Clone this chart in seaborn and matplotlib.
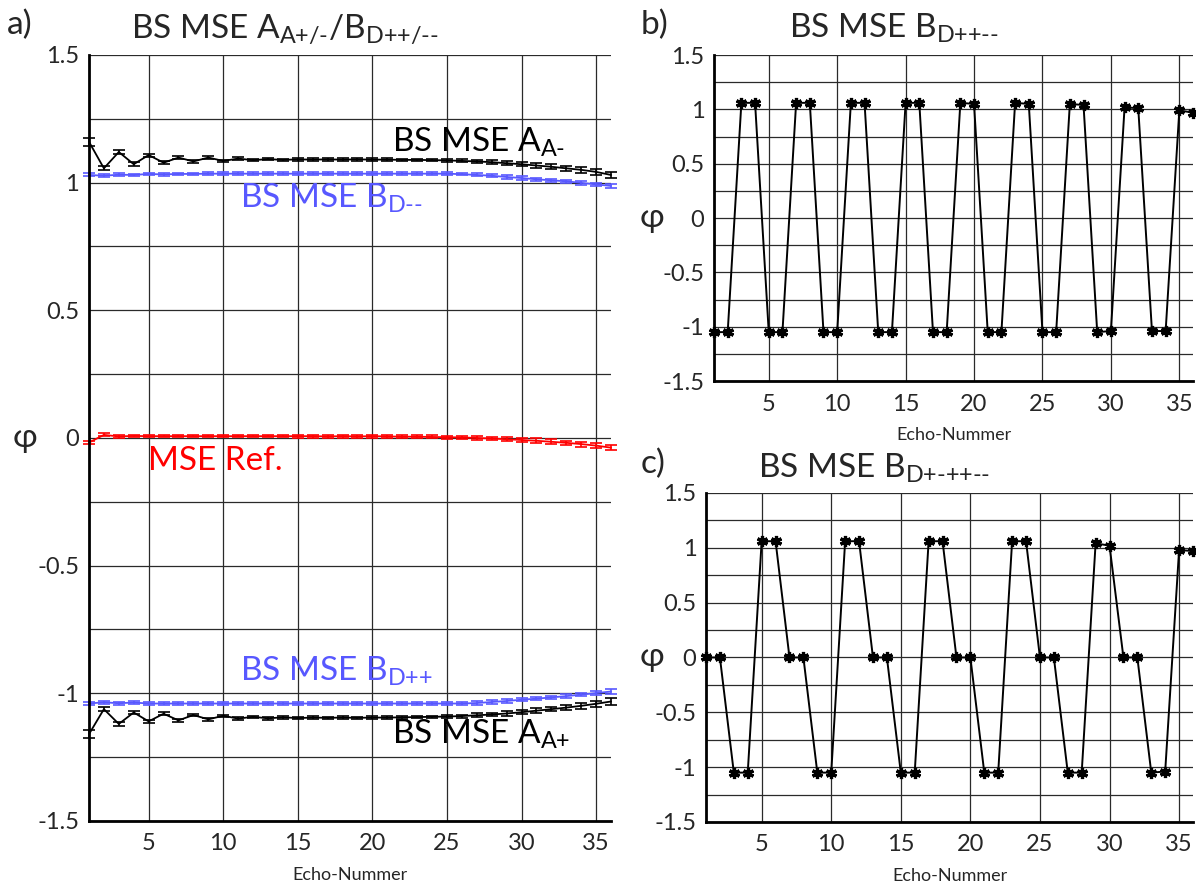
import numpy as np
import pandas as pd
import seaborn as sns
import matplotlib.pyplot as plt

sns.set_theme(style="white")
FONT = "Lato"
plt.rcParams['font.family'] = [FONT, 'DejaVu Sans']
plt.rcParams['mathtext.fontset'] = 'custom'
plt.rcParams['mathtext.rm'] = FONT
plt.rcParams['mathtext.it'] = FONT
plt.rcParams['mathtext.bf'] = FONT

# ---- data ----
echo = list(range(1, 37))

a_minus = [1.160, 1.056, 1.120, 1.072, 1.108, 1.078, 1.098, 1.083, 1.098, 1.085,
           1.094, 1.088, 1.092, 1.089, 1.091, 1.090, 1.091, 1.090, 1.091, 1.090,
           1.090, 1.089, 1.089, 1.088, 1.087, 1.085, 1.083, 1.080, 1.076, 1.072,
           1.067, 1.062, 1.056, 1.050, 1.042, 1.030]
a_minus_err = [0.015, 0.008, 0.007, 0.007, 0.006, 0.006, 0.005, 0.005, 0.005, 0.005,
               0.005, 0.005, 0.005, 0.005, 0.005, 0.005, 0.005, 0.005, 0.005, 0.005,
               0.005, 0.005, 0.005, 0.005, 0.006, 0.006, 0.007, 0.007, 0.008, 0.008,
               0.009, 0.009, 0.010, 0.011, 0.012, 0.012]

b_minus = [1.030, 1.027, 1.031, 1.030, 1.034, 1.032, 1.034, 1.034, 1.035, 1.035,
           1.035, 1.035, 1.035, 1.035, 1.035, 1.035, 1.035, 1.035, 1.035, 1.035,
           1.035, 1.035, 1.035, 1.035, 1.035, 1.033, 1.030, 1.027, 1.022, 1.018,
           1.013, 1.009, 1.005, 0.999, 0.993, 0.987]
b_minus_err = [0.006, 0.006, 0.005, 0.005, 0.005, 0.005, 0.005, 0.005, 0.005, 0.005,
               0.005, 0.005, 0.005, 0.005, 0.005, 0.005, 0.005, 0.005, 0.005, 0.005,
               0.005, 0.005, 0.005, 0.005, 0.005, 0.005, 0.006, 0.006, 0.006, 0.006,
               0.006, 0.007, 0.007, 0.007, 0.007, 0.008]

ref = [-0.018, 0.012, 0.006, 0.008, 0.007, 0.007, 0.007, 0.007, 0.007, 0.007,
       0.007, 0.007, 0.007, 0.007, 0.007, 0.007, 0.006, 0.007, 0.006, 0.007,
       0.006, 0.005, 0.005, 0.004, 0.003, 0.002, 0.000, -0.002, -0.005, -0.008,
       -0.011, -0.015, -0.019, -0.024, -0.030, -0.038]
ref_err = [0.006, 0.006, 0.005, 0.005, 0.005, 0.005, 0.005, 0.005, 0.005, 0.005,
           0.005, 0.005, 0.005, 0.005, 0.006, 0.006, 0.006, 0.006, 0.006, 0.006,
           0.006, 0.006, 0.006, 0.006, 0.006, 0.007, 0.007, 0.007, 0.008, 0.008,
           0.009, 0.009, 0.009, 0.010, 0.010, 0.010]

b_plus = [-1.040, -1.035, -1.039, -1.036, -1.040, -1.040, -1.040, -1.040, -1.040, -1.040,
          -1.040, -1.040, -1.040, -1.040, -1.040, -1.040, -1.040, -1.040, -1.040, -1.040,
          -1.040, -1.040, -1.040, -1.040, -1.040, -1.040, -1.038, -1.034, -1.030, -1.025,
          -1.021, -1.016, -1.011, -1.005, -0.999, -0.993]
b_plus_err = b_minus_err

a_plus = [-1.160, -1.062, -1.120, -1.075, -1.110, -1.080, -1.106, -1.085, -1.102, -1.088,
          -1.099, -1.092, -1.098, -1.094, -1.097, -1.095, -1.096, -1.095, -1.096, -1.095,
          -1.095, -1.094, -1.093, -1.092, -1.091, -1.089, -1.086, -1.083, -1.079, -1.074,
          -1.068, -1.062, -1.056, -1.049, -1.041, -1.032]
a_plus_err = a_minus_err

phase_b = [-1.05, -1.05, 1.06, 1.06, -1.05, -1.05, 1.06, 1.06, -1.05, -1.05,
           1.06, 1.06, -1.05, -1.05, 1.06, 1.06, -1.05, -1.05, 1.06, 1.05,
           -1.05, -1.05, 1.06, 1.05, -1.05, -1.05, 1.05, 1.04, -1.05, -1.04,
           1.02, 1.01, -1.04, -1.04, 0.99, 0.97]

phase_c = [0.0, 0.0, -1.05, -1.05, 1.06, 1.06, 0.0, 0.0, -1.05, -1.05,
           1.06, 1.06, 0.0, 0.0, -1.05, -1.05, 1.06, 1.06, 0.0, 0.0,
           -1.05, -1.05, 1.06, 1.06, 0.0, 0.0, -1.05, -1.05, 1.04, 1.02,
           0.0, 0.0, -1.05, -1.04, 0.98, 0.97]

BLUE = '#5858ff'
RED = '#ff0000'

fig = plt.figure(figsize=(11.96, 8.89), dpi=100)
ax_a = fig.add_axes([0.0744, 0.0765, 0.4365, 0.8617])
ax_b = fig.add_axes([0.597, 0.5714, 0.4005, 0.3667])
ax_c = fig.add_axes([0.5903, 0.0754, 0.4072, 0.3701])


def style_axis(ax, phi_x):
    ax.set_xlim(1, 36)
    ax.set_ylim(-1.5, 1.5)
    ax.set_xticks([5, 10, 15, 20, 25, 30, 35])
    ax.set_yticks([-1.5, -1, -0.5, 0, 0.5, 1, 1.5])
    ax.set_yticklabels(['-1.5', '-1', '-0.5', '0', '0.5', '1', '1.5'])
    ax.set_yticks(np.arange(-1.25, 1.5, 0.25), minor=True)
    ax.grid(True, which='both', color='#2a2a2a', lw=0.9)
    ax.set_axisbelow(True)
    for s in ['top', 'right']:
        ax.spines[s].set_visible(False)
    for s in ['left', 'bottom']:
        ax.spines[s].set_color('black')
        ax.spines[s].set_linewidth(2)
    ax.tick_params(axis='both', which='both', direction='in', length=4,
                   width=1.5, color='black', labelsize=17, pad=7)
    ax.tick_params(axis='x', pad=9)
    ax.set_xlabel('Echo-Nummer', fontsize=13, labelpad=9)
    ax.set_ylabel('φ', fontsize=24, rotation=0, va='center', ha='center')
    ax.yaxis.set_label_coords(phi_x, 0.5)


# ---- panel a ----
series = [(a_minus, a_minus_err, 'black'), (b_minus, b_minus_err, BLUE),
          (ref, ref_err, RED), (b_plus, b_plus_err, BLUE), (a_plus, a_plus_err, 'black')]
for vals, err, col in series:
    df = pd.DataFrame({'echo': echo, 'phi': vals})
    sns.lineplot(data=df, x='echo', y='phi', ax=ax_a, color=col, lw=1.3, clip_on=False)
    ax_a.errorbar(echo, vals, yerr=err, fmt='none', ecolor=col, elinewidth=1.2,
                  capsize=4, capthick=1.2, clip_on=False)
style_axis(ax_a, -0.123)

ax_a.text(21.3, 1.12, r'BS MSE A$_{\text{A-}}$', fontsize=24, color='black')
ax_a.text(11.1, 0.90, r'BS MSE B$_{\text{D--}}$', fontsize=24, color=BLUE)
ax_a.text(4.96, -0.125, 'MSE Ref.', fontsize=24, color=RED)
ax_a.text(11.1, -0.95, r'BS MSE B$_{\text{D++}}$', fontsize=24, color=BLUE)
ax_a.text(21.3, -1.20, r'BS MSE A$_{\text{A+}}$', fontsize=24, color='black')
ax_a.text(0.375, 1.022, r'BS MSE A$_{\text{A+/-}}$/B$_{\text{D++/--}}$', fontsize=24,
          transform=ax_a.transAxes, ha='center', va='baseline')

# ---- panels b and c ----
for ax, vals, title, tx, ty, px in [
        (ax_b, phase_b, r'BS MSE B$_{\text{D++--}}$', 0.376, 1.052, -0.129),
        (ax_c, phase_c, r'BS MSE B$_{\text{D+-++--}}$', 0.345, 1.046, -0.111)]:
    df = pd.DataFrame({'echo': echo, 'phi': vals})
    sns.lineplot(data=df, x='echo', y='phi', ax=ax, color='black', lw=1.4,
                 marker=(6, 2, 0), markersize=8, markeredgewidth=2.3,
                 markeredgecolor='black', clip_on=False)
    style_axis(ax, px)
    ax.text(tx, ty, title, fontsize=24, transform=ax.transAxes,
            ha='center', va='baseline')

fig.text(0.006, 0.962, 'a)', fontsize=24)
fig.text(0.536, 0.962, 'b)', fontsize=24)
fig.text(0.536, 0.468, 'c)', fontsize=24)

fig.savefig('out.png', dpi=100)
